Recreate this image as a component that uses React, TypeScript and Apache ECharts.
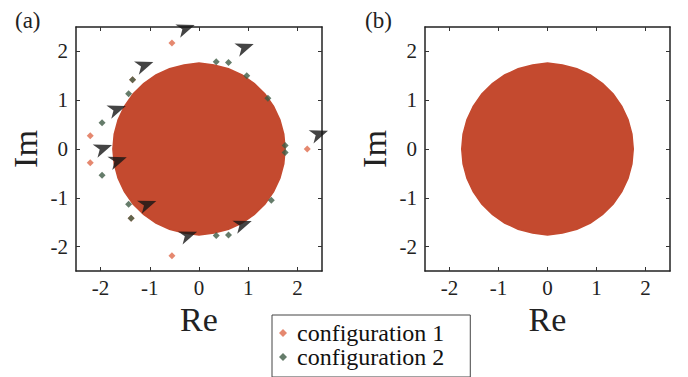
import React, { useEffect, useRef } from "react";
import * as echarts from "echarts";

// Boundary of the dense eigenvalue disc (radius ~1.75)
const discRe = [1.75, 1.723, 1.644, 1.516, 1.341, 1.125, 0.875, 0.599, 0.304, 0, -0.304, -0.599, -0.875, -1.125, -1.341, -1.516, -1.644, -1.723, -1.75, -1.723, -1.644, -1.516, -1.341, -1.125, -0.875, -0.599, -0.304, 0, 0.304, 0.599, 0.875, 1.125, 1.341, 1.516, 1.644, 1.723];
const discIm = [0, 0.304, 0.599, 0.875, 1.125, 1.341, 1.516, 1.644, 1.723, 1.76, 1.723, 1.644, 1.516, 1.341, 1.125, 0.875, 0.599, 0.304, 0, -0.304, -0.599, -0.875, -1.125, -1.341, -1.516, -1.644, -1.723, -1.76, -1.723, -1.644, -1.516, -1.341, -1.125, -0.875, -0.599, -0.304];

// Outlying eigenvalues, configuration 1
const conf1Re = [-0.55, -2.21, -2.21, -0.55, 2.2, -1.35, -1.38];
const conf1Im = [2.17, 0.27, -0.28, -2.19, 0.0, 1.42, -1.42];

// Outlying eigenvalues, configuration 2
const conf2Re = [0.6, -1.97, -1.97, 0.6, -1.35, -1.38, -1.43, -1.43, 1.4, 1.47, 0.97, 0.35, 0.35, 1.75, 1.75];
const conf2Im = [1.77, 0.54, -0.54, -1.76, 1.42, -1.42, 1.13, -1.13, 1.04, -1.05, 1.5, 1.79, -1.77, 0.07, -0.07];

// Arrow markers
const arrowRe = [-0.26, 0.94, -1.1, -1.66, -1.94, -1.64, -1.04, -0.21, 0.9, 2.45];
const arrowIm = [2.48, 2.09, 1.72, 0.82, 0.02, -0.23, -1.13, -1.76, -1.54, 0.31];

const tickValues = [-2, -1, 0, 1, 2];

const DISC = "#c44a2f";
const C1 = "#de6a4b";
const C2 = "#3e5b45";
const FONT = "'Liberation Serif', 'DejaVu Serif', serif";
const ARROW = "path://M0,0 L22,8 L0,16 L6,8 Z";

function makeAxis(dim: "x" | "y", gridIndex: number, position: string, labels: boolean, name?: string) {
  return {
    type: "value",
    gridIndex,
    position,
    min: -2.5,
    max: 2.5,
    name: name || "",
    nameLocation: "middle",
    nameGap: dim === "x" ? 24 : 34,
    nameTextStyle: { fontFamily: FONT, fontSize: 34, color: "#222" },
    axisLine: { show: true, onZero: false, lineStyle: { color: "#222", width: 1.5 } },
    axisTick: { show: true, inside: true, length: 4, customValues: tickValues, lineStyle: { color: "#333", width: 1 } },
    axisLabel: labels
      ? { show: true, customValues: tickValues, fontFamily: FONT, fontSize: 21, color: "#222", margin: dim === "x" ? 6 : 8 }
      : { show: false },
    splitLine: { show: false },
  };
}

export default function App() {
  const ref = useRef<HTMLDivElement>(null);
  useEffect(() => {
    if (!ref.current) return;
    const chart = echarts.init(ref.current, undefined, { renderer: "svg" });
    const discSeries = (xi: number, yi: number) => ({
      type: "custom",
      xAxisIndex: xi,
      yAxisIndex: yi,
      data: [[0, 0]],
      silent: true,
      renderItem: (_p: any, api: any) => ({
        type: "polygon",
        shape: { points: discRe.map((r, i) => api.coord([r, discIm[i]])) },
        style: { fill: DISC, stroke: DISC, lineWidth: 1.5 },
      }),
    });
    chart.setOption({
      animation: false,
      textStyle: { fontFamily: FONT },
      title: [
        { text: "(a)", left: 10, top: 4, textStyle: { fontFamily: FONT, fontSize: 23, fontWeight: "normal", color: "#222" } },
        { text: "(b)", left: 360, top: 4, textStyle: { fontFamily: FONT, fontSize: 23, fontWeight: "normal", color: "#222" } },
      ],
      legend: {
        data: ["configuration 1", "configuration 2"],
        orient: "vertical",
        left: 272,
        top: 315,
        icon: "diamond",
        itemWidth: 8,
        itemHeight: 8,
        itemGap: 0,
        padding: [6, 26, 8, 7],
        borderColor: "#444",
        borderWidth: 1,
        textStyle: { fontFamily: FONT, fontSize: 24, color: "#111", padding: [0, 0, 0, 5] },
      },
      grid: [
        { left: 76, top: 27, width: 246, height: 244 },
        { left: 425, top: 27, width: 245, height: 244 },
      ],
      xAxis: [
        makeAxis("x", 0, "bottom", true, "Re"),
        makeAxis("x", 0, "top", false),
        makeAxis("x", 1, "bottom", true, "Re"),
        makeAxis("x", 1, "top", false),
      ],
      yAxis: [
        makeAxis("y", 0, "left", true, "Im"),
        makeAxis("y", 0, "right", false),
        makeAxis("y", 1, "left", true, "Im"),
        makeAxis("y", 1, "right", false),
      ],
      series: [
        discSeries(0, 0),
        discSeries(2, 2),
        {
          name: "configuration 1",
          type: "scatter",
          xAxisIndex: 0,
          yAxisIndex: 0,
          symbol: "diamond",
          symbolSize: 7,
          itemStyle: { color: C1 },
          data: conf1Re.map((r, i) => [r, conf1Im[i]]),
        },
        {
          name: "configuration 2",
          type: "scatter",
          xAxisIndex: 0,
          yAxisIndex: 0,
          symbol: "diamond",
          symbolSize: 7,
          itemStyle: { color: C2 },
          data: conf2Re.map((r, i) => [r, conf2Im[i]]),
        },
        {
          type: "scatter",
          xAxisIndex: 0,
          yAxisIndex: 0,
          symbol: ARROW,
          symbolSize: [18, 14],
          symbolRotate: 20,
          clip: false,
          itemStyle: { color: "#151515" },
          data: arrowRe.map((r, i) => [r, arrowIm[i]]),
        },
      ],
    });
    return () => chart.dispose();
  }, []);
  return <div ref={ref} style={{ position: "fixed", left: 0, top: 0, width: 688, height: 377, background: "#fff" }} />;
}
